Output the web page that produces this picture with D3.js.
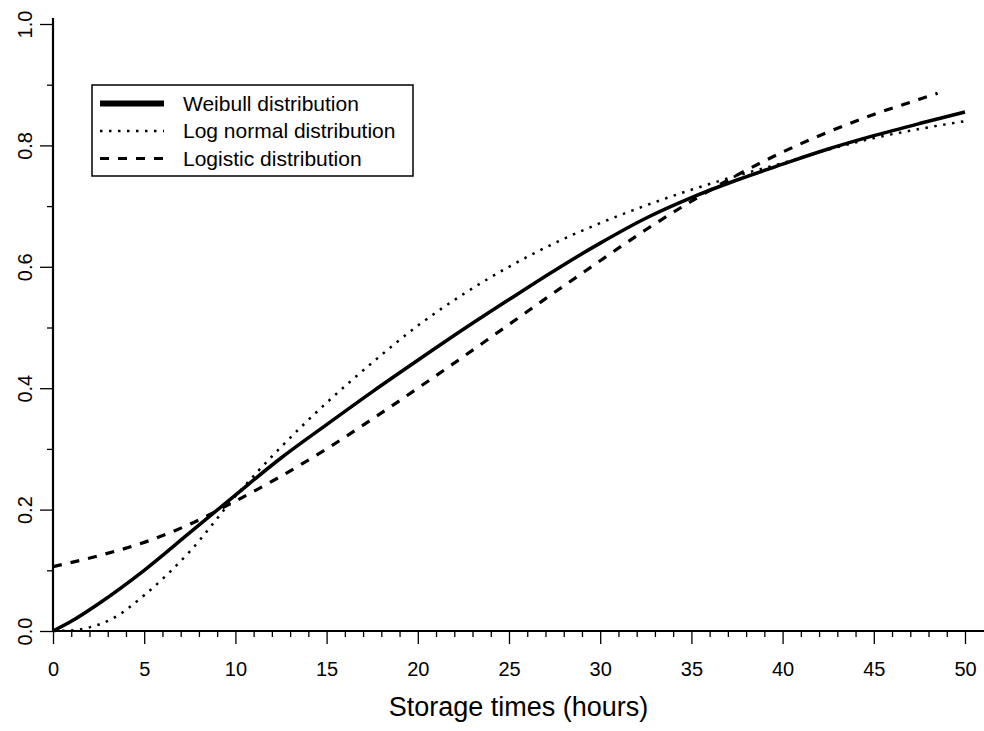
<!DOCTYPE html>
<meta charset="utf-8">
<style>
body { margin: 0; background: #fff; }
svg { display: block; font-family: "Liberation Sans", Arial, Helvetica, sans-serif; }
.axis path { display: none; }
.axis line { stroke: #000; stroke-width: 1.3px; }
.axis text { fill: #000; font-size: 20px; }
.curve { fill: none; stroke: #000; }
</style>
<svg width="984" height="731"></svg>
<script src="https://cdnjs.cloudflare.com/ajax/libs/d3/7.8.5/d3.min.js"></script>
<script>
// values
var weibullT = [0, 1, 2.5, 5, 7.5, 10, 12.5, 15, 17.5, 20, 22.5, 25, 27.5, 30, 32.5, 35, 37.5, 40, 42.5, 45, 47.5, 50];
var weibullV = [0, 0.016, 0.045, 0.100, 0.162, 0.224, 0.285, 0.340, 0.394, 0.446, 0.497, 0.546, 0.594, 0.639, 0.680, 0.714, 0.743, 0.769, 0.794, 0.816, 0.836, 0.855];

var lognormT = [0, 1, 2, 3.3, 5, 7.5, 10, 12.5, 15, 17.5, 20, 22.5, 25, 27.5, 30, 32.5, 35, 37.5, 40, 42.5, 45, 47.5, 50];
var lognormV = [0, 0.001, 0.006, 0.021, 0.059, 0.131, 0.222, 0.303, 0.376, 0.442, 0.503, 0.555, 0.600, 0.639, 0.672, 0.701, 0.727, 0.750, 0.771, 0.793, 0.812, 0.827, 0.840];

var logisT = [0, 2.5, 5, 7.5, 10, 12.5, 15, 17.5, 20, 22.5, 25, 27.5, 30, 32.5, 35, 37.5, 40, 42.5, 45, 47.5, 48.5];
var logisV = [0.106, 0.124, 0.146, 0.176, 0.214, 0.255, 0.300, 0.349, 0.400, 0.452, 0.505, 0.558, 0.610, 0.661, 0.708, 0.751, 0.789, 0.822, 0.851, 0.876, 0.886];

var seriesNames = ["Weibull distribution", "Log normal distribution", "Logistic distribution"];
var xMajor = d3.range(0, 51, 5);
var xMinor = d3.range(0, 51, 1).filter(function(d) { return d % 5 !== 0; });
var yMajor = [0, 0.2, 0.4, 0.6, 0.8, 1.0];
var yMinor = [0.1, 0.3, 0.5, 0.7, 0.9];
var xTitle = "Storage times (hours)";

var svg = d3.select("svg"),
    W = +svg.attr("width"),
    x = d3.scaleLinear().domain([0, 50]).range([53, 965]),
    y = d3.scaleLinear().domain([0, 1]).range([631, 24]);

var styles = [
  {width: 3.5, dash: null, legendWidth: 6},
  {width: 2.5, dash: "2.5,6.5", legendWidth: 2.5},
  {width: 3.2, dash: "9,9", legendWidth: 3.2}
];

function pairs(t, v) { return t.map(function(d, i) { return {t: d, v: v[i]}; }); }
var series = [pairs(weibullT, weibullV), pairs(lognormT, lognormV), pairs(logisT, logisV)];

var line = d3.line()
    .curve(d3.curveMonotoneX)
    .x(function(d) { return x(d.t); })
    .y(function(d) { return y(d.v); });

// x axis
svg.append("g")
    .attr("class", "axis")
    .attr("transform", "translate(0," + y(0) + ")")
    .call(d3.axisBottom(x).tickValues(xMinor).tickSize(6).tickFormat(""));
svg.append("g")
    .attr("class", "axis")
    .attr("transform", "translate(0," + y(0) + ")")
    .call(d3.axisBottom(x).tickValues(xMajor).tickSize(13).tickPadding(18).tickFormat(d3.format("d")));

// y axis
svg.append("g")
    .attr("class", "axis")
    .attr("transform", "translate(" + x(0) + ",0)")
    .call(d3.axisLeft(y).tickValues(yMinor).tickSize(6).tickFormat(""));
svg.append("g")
    .attr("class", "axis")
    .attr("transform", "translate(" + x(0) + ",0)")
    .call(d3.axisLeft(y).tickValues(yMajor).tickSize(13).tickFormat(d3.format(".1f")))
  .selectAll("text")
    .attr("transform", "rotate(-90)")
    .attr("x", 0)
    .attr("y", -21)
    .attr("dy", 0)
    .style("text-anchor", "middle");

// axis lines
svg.append("line")
    .attr("x1", x(0)).attr("x2", W)
    .attr("y1", y(0)).attr("y2", y(0))
    .attr("stroke", "#000").attr("stroke-width", 2.2);
svg.append("line")
    .attr("x1", x(0)).attr("x2", x(0))
    .attr("y1", y(0)).attr("y2", 18)
    .attr("stroke", "#000").attr("stroke-width", 2.2);

// curves
svg.selectAll(".curve")
    .data(series)
  .enter().append("path")
    .attr("class", "curve")
    .attr("d", line)
    .attr("stroke-width", function(d, i) { return styles[i].width; })
    .attr("stroke-dasharray", function(d, i) { return styles[i].dash; });

// x title
svg.append("text")
    .attr("x", (x(0) + W) / 2)
    .attr("y", 716)
    .attr("text-anchor", "middle")
    .style("font-size", "27px")
    .text(xTitle);

// legend
var legend = svg.append("g").attr("transform", "translate(92,85)");
legend.append("rect")
    .attr("width", 321).attr("height", 91)
    .attr("fill", "#fff").attr("stroke", "#000").attr("stroke-width", 1.5);
var item = legend.selectAll(".item")
    .data(seriesNames)
  .enter().append("g")
    .attr("transform", function(d, i) { return "translate(0," + (18.5 + i * 27.5) + ")"; });
item.append("line")
    .attr("x1", 8).attr("x2", 72)
    .attr("stroke", "#000")
    .attr("stroke-width", function(d, i) { return styles[i].legendWidth; })
    .attr("stroke-dasharray", function(d, i) { return styles[i].dash; });
item.append("text")
    .attr("x", 91)
    .attr("dy", "0.35em")
    .style("font-size", "21px")
    .text(function(d) { return d; });
</script>
